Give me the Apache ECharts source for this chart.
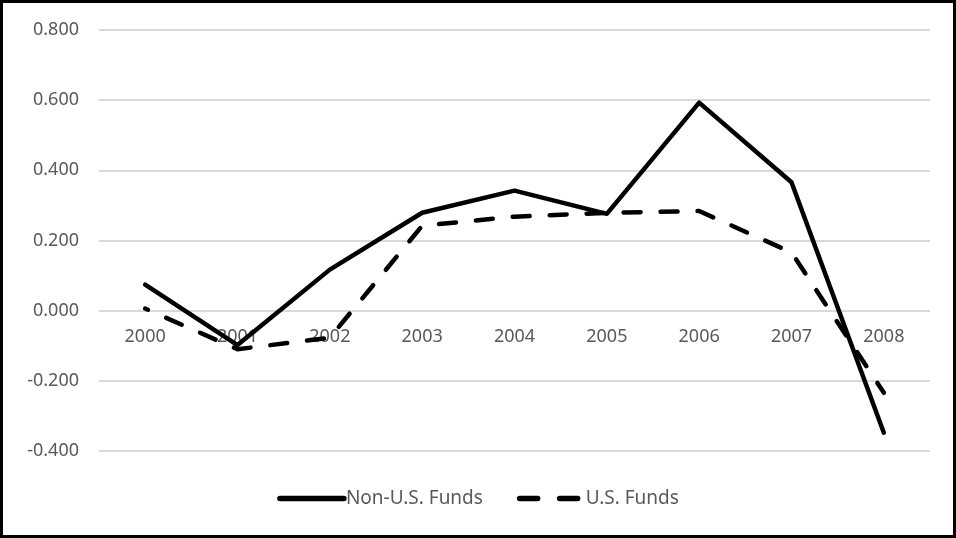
<!DOCTYPE html>
<html>
<head>
<meta charset="utf-8">
<script src="https://cdn.jsdelivr.net/npm/echarts@6/dist/echarts.min.js"></script>
<style>
html,body{margin:0;padding:0;background:#fff;}
#chart{width:956px;height:538px;box-sizing:border-box;border:3px solid #000;}
</style>
</head>
<body>
<div id="chart"></div>
<script>
const categories = ['2000','2001','2002','2003','2004','2005','2006','2007','2008'];
const nonUSFunds = [0.074, -0.098, 0.117, 0.279, 0.342, 0.276, 0.593, 0.366, -0.348];
const usFunds = [0.006, -0.110, -0.077, 0.242, 0.268, 0.279, 0.284, 0.166, -0.234];
const yTicks = { min: -0.4, max: 0.8, interval: 0.2 };

const chart = echarts.init(document.getElementById('chart'), null, { renderer: 'canvas' });
const font = 'Noto Sans';
const gridTop = 27, gridBottom = 84, chartH = 538 - 6;
const plotH = chartH - gridTop - gridBottom;
// offset that moves the category axis from the bottom of the grid up to the zero line
const zeroOffset = -plotH * (0 - yTicks.min) / (yTicks.max - yTicks.min);

chart.setOption({
  animation: false,
  backgroundColor: '#fff',
  grid: { left: 96, right: 23, top: gridTop, bottom: gridBottom, containLabel: false },
  legend: {
    bottom: 22,
    left: 'center',
    itemWidth: 64,
    itemHeight: 10,
    itemGap: 34,
    itemStyle: { opacity: 0 },
    textStyle: { color: '#595959', fontFamily: font, fontSize: 19, padding: [0, 0, 0, -3] },
    data: [
      { name: 'Non-U.S. Funds', lineStyle: { width: 5.5, cap: 'round' } },
      { name: 'U.S. Funds', lineStyle: { width: 5.5, type: [18, 22], dashOffset: 0, cap: 'round' } }
    ]
  },
  xAxis: {
    type: 'category',
    data: categories,
    boundaryGap: true,
    offset: zeroOffset,
    axisLine: { show: false, onZero: false },
    axisTick: { show: false },
    axisLabel: { color: '#595959', fontFamily: font, fontSize: 18, margin: 17 }
  },
  yAxis: {
    type: 'value',
    min: yTicks.min,
    max: yTicks.max,
    interval: yTicks.interval,
    axisLine: { show: false },
    axisTick: { show: false },
    splitLine: { lineStyle: { color: '#d9d9d9', width: 2 } },
    axisLabel: {
      color: '#595959', fontFamily: font, fontSize: 18, margin: 20,
      formatter: v => v.toFixed(3)
    }
  },
  series: [
    {
      name: 'Non-U.S. Funds',
      type: 'line',
      data: nonUSFunds,
      symbol: 'none',
      lineStyle: { color: '#000', width: 4.5, cap: 'round', join: 'round' },
      itemStyle: { color: '#000' }
    },
    {
      name: 'U.S. Funds',
      type: 'line',
      data: usFunds,
      symbol: 'none',
      lineStyle: { color: '#000', width: 4.5, type: [17, 20], dashOffset: 14, cap: 'round', join: 'round' },
      itemStyle: { color: '#000' }
    }
  ]
});
</script>
</body>
</html>
